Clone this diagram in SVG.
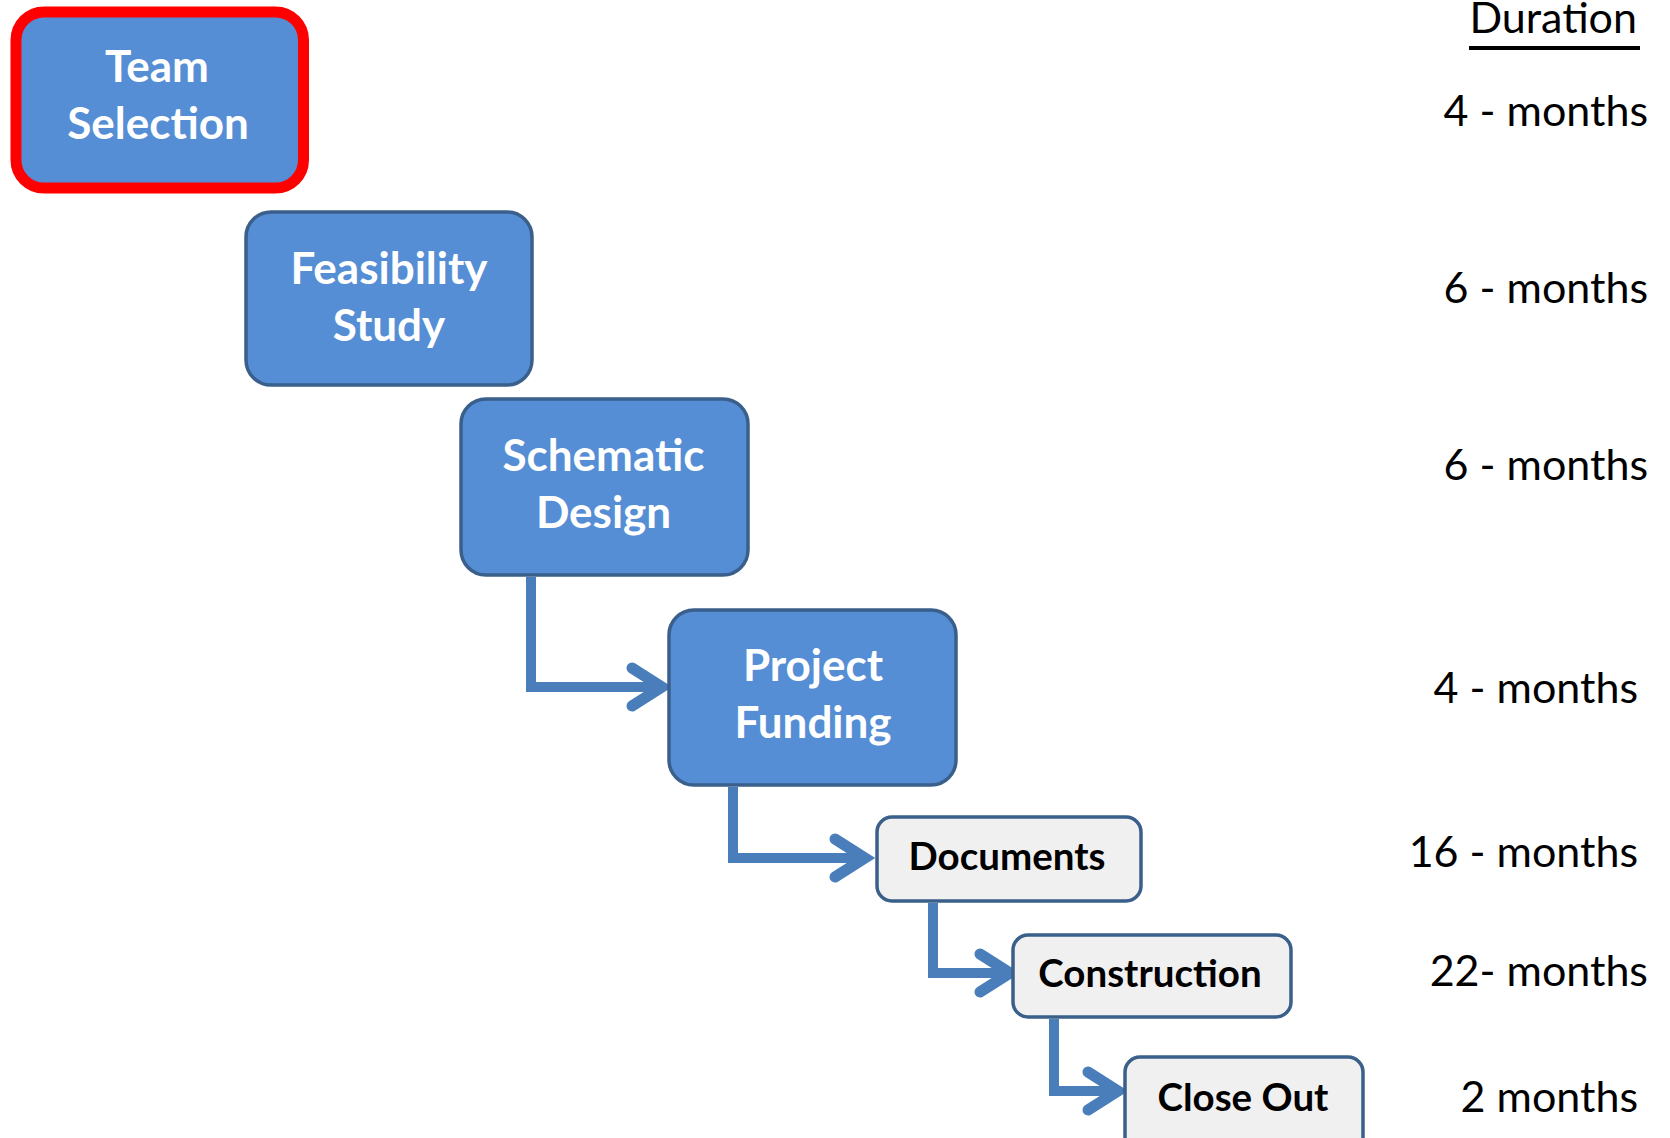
<svg xmlns="http://www.w3.org/2000/svg" width="1670" height="1138" viewBox="0 0 1670 1138">
<style>
.blue{fill:#558ED5;stroke:#3A5F8B;stroke-width:3.5}
.sel{fill:#558ED5;stroke:#FF0000;stroke-width:11}
.light{fill:#F0F0F0;stroke:#3A5F8B;stroke-width:3.5}
.wt{font-family:Lato,"Liberation Sans",sans-serif;font-weight:700;font-size:44px;fill:#FFFFFF;text-anchor:middle}
.bt{font-family:Lato,"Liberation Sans",sans-serif;font-weight:700;font-size:38.5px;fill:#000000;text-anchor:middle}
.dur{font-family:Lato,"Liberation Sans",sans-serif;font-size:43px;fill:#000000;text-anchor:end}
.conn{fill:none;stroke:#4A7EBB;stroke-width:10;stroke-linejoin:miter}
</style>
<defs>
<marker id="chev" markerUnits="userSpaceOnUse" viewBox="-50 -30 70 60" markerWidth="70" markerHeight="60" refX="0" refY="0" orient="auto">
<path d="M-30,-19 L0,0 L-30,19" fill="none" stroke="#4A7EBB" stroke-width="11" stroke-linecap="round" stroke-linejoin="miter" stroke-miterlimit="10"/>
</marker>
</defs>
<g id="connectors">
<path class="conn" d="M531,577 V687 H662" marker-end="url(#chev)"/>
<path class="conn" d="M733,787 V858 H865" marker-end="url(#chev)"/>
<path class="conn" d="M933,903 V973 H1010" marker-end="url(#chev)"/>
<path class="conn" d="M1054,1019 V1091 H1118" marker-end="url(#chev)"/>
</g>
<g id="team-selection">
<rect class="sel" x="16" y="12" width="287.5" height="176" rx="28"/>
<text class="wt" x="157" y="82">Team</text>
<text class="wt" x="158" y="139">Selection</text>
</g>
<g id="feasibility-study">
<rect class="blue" x="246" y="212" width="286" height="173" rx="25"/>
<text class="wt" x="389" y="284">Feasibility</text>
<text class="wt" x="389" y="341">Study</text>
</g>
<g id="schematic-design">
<rect class="blue" x="461" y="399" width="287" height="176" rx="25"/>
<text class="wt" x="603.5" y="471">Schematic</text>
<text class="wt" x="603.5" y="528">Design</text>
</g>
<g id="project-funding">
<rect class="blue" x="669" y="610" width="287" height="175" rx="25"/>
<text class="wt" x="813" y="681">Project</text>
<text class="wt" x="813" y="738">Funding</text>
</g>
<g id="documents">
<rect class="light" x="877" y="817" width="264" height="84" rx="15"/>
<text class="bt" x="1007" y="870">Documents</text>
</g>
<g id="construction">
<rect class="light" x="1013" y="935" width="278" height="82" rx="15"/>
<text class="bt" x="1150" y="987">Construction</text>
</g>
<g id="close-out">
<rect class="light" x="1125" y="1057" width="238" height="100" rx="15"/>
<text class="bt" x="1243" y="1111">Close Out</text>
</g>
<g id="durations">
<text class="dur" x="1637" y="33">Duration</text>
<line x1="1469" y1="48" x2="1640" y2="48" stroke="#000000" stroke-width="4"/>
<text class="dur" x="1648" y="126">4 - months</text>
<text class="dur" x="1648" y="303">6 - months</text>
<text class="dur" x="1648" y="480">6 - months</text>
<text class="dur" x="1638" y="703">4 - months</text>
<text class="dur" x="1638" y="867">16 - months</text>
<text class="dur" x="1648" y="986">22- months</text>
<text class="dur" x="1638" y="1112">2 months</text>
</g>
</svg>
